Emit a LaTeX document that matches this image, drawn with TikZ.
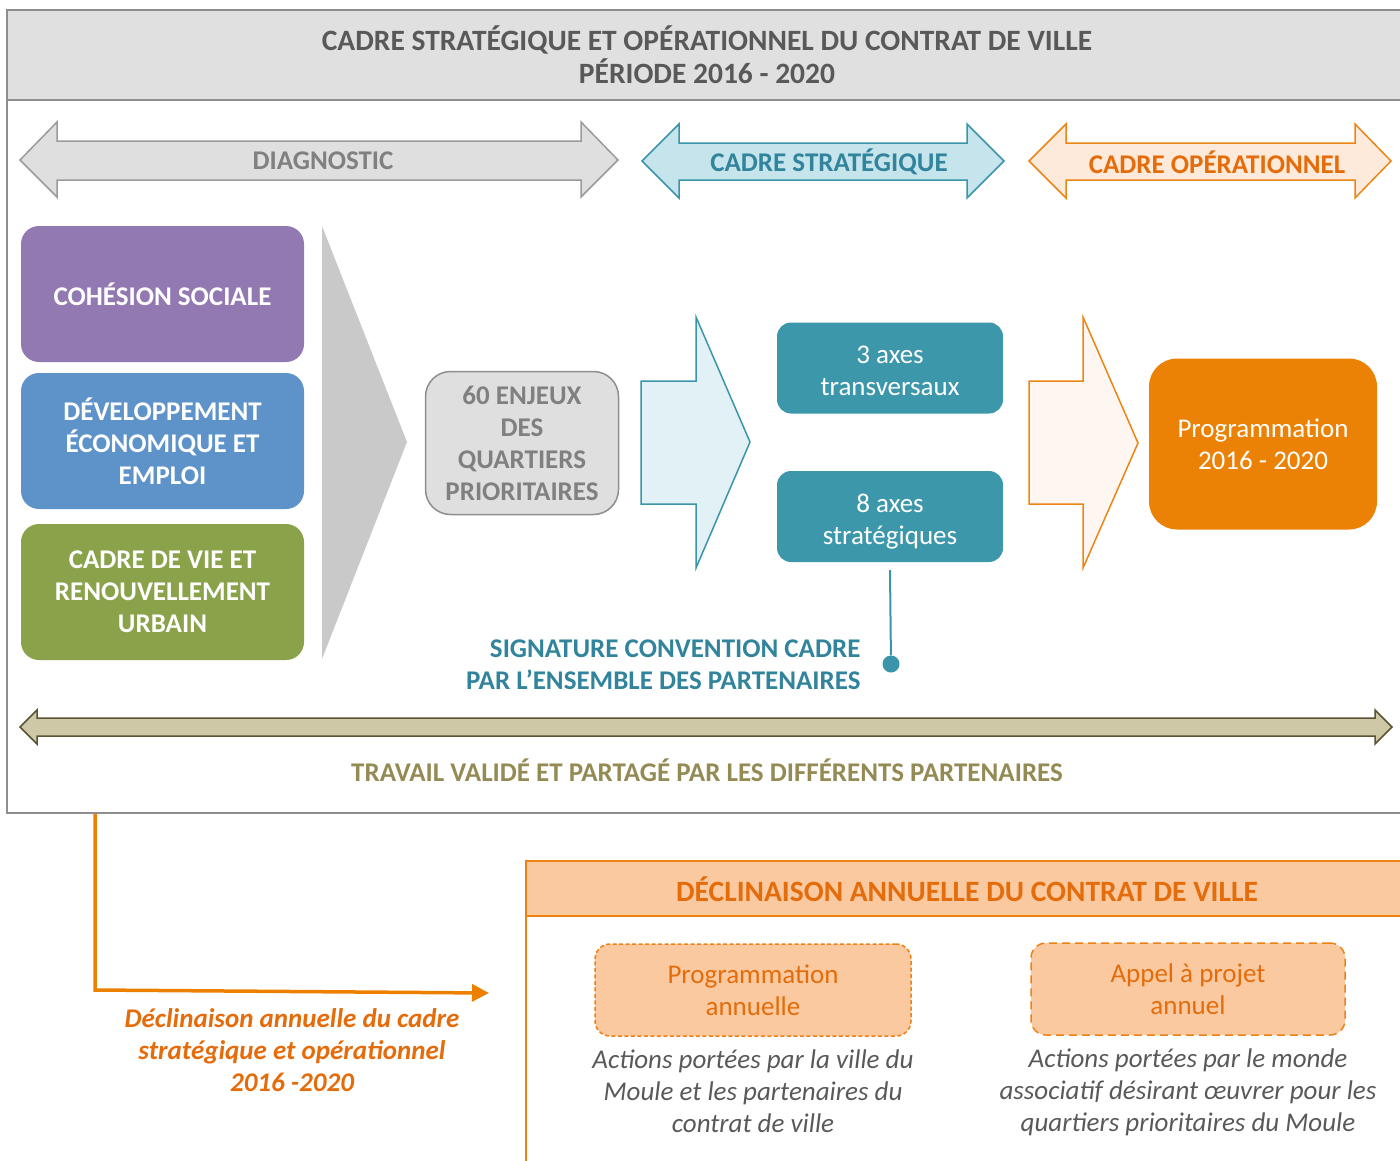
\documentclass[tikz,border=0pt]{standalone}
\usepackage{fontspec}
\setmainfont{Carlito}
\usepackage{tikz}
\usetikzlibrary{arrows.meta,positioning}
\definecolor{headgray}{HTML}{E0E0E0}
\definecolor{framegray}{HTML}{8E8E8E}
\definecolor{darkgray}{HTML}{595959}
\definecolor{diagfill}{HTML}{DFDFDF}
\definecolor{diagline}{HTML}{9A9A9A}
\definecolor{diagtext}{HTML}{808080}
\definecolor{stratfill}{HTML}{C5E4EC}
\definecolor{stratline}{HTML}{3A95AA}
\definecolor{strattext}{HTML}{31849B}
\definecolor{operfill}{HTML}{FDEADA}
\definecolor{operline}{HTML}{EB8516}
\definecolor{opertext}{HTML}{E46C0A}
\definecolor{cohesion}{HTML}{9279B1}
\definecolor{devel}{HTML}{5E93CA}
\definecolor{cadrevie}{HTML}{8AA34A}
\definecolor{funnel}{HTML}{C9C9C9}
\definecolor{axeteal}{HTML}{3C97AB}
\definecolor{bluearrow}{HTML}{E2F1F6}
\definecolor{orangearrow}{HTML}{FEF6F0}
\definecolor{progorange}{HTML}{EB8205}
\definecolor{khaki}{HTML}{CFC8A6}
\definecolor{khakiline}{HTML}{5A5335}
\definecolor{khakitext}{HTML}{948A54}
\definecolor{peach}{HTML}{FAC9A0}
\definecolor{peachline}{HTML}{EE8116}
\definecolor{elbow}{HTML}{EE8000}
\tikzstyle{theme} = [rectangle, rounded corners=18pt, minimum width=283pt,
                     minimum height=136pt, text width=270pt, align=flush center,
                     text=white, font=\bfseries\fontsize{27}{32}\selectfont]
\tikzstyle{axe} = [rectangle, rounded corners=14pt, fill=axeteal, minimum width=226pt,
                   minimum height=91pt, align=center, text=white,
                   text height=55pt, text depth=0pt,
                   font=\fontsize{27}{32}\selectfont]
\tikzstyle{annual} = [rectangle, rounded corners=15pt, fill=peach, draw=peachline,
                      line width=1.5pt, align=center, text=opertext,
                      font=\fontsize{27}{32}\selectfont, minimum height=92pt]
\tikzstyle{caption} = [align=center, font=\bfseries\fontsize{27}{32}\selectfont]
\tikzstyle{note} = [align=center, text=darkgray, font=\itshape\fontsize{27}{32}\selectfont]

\begin{document}
\frenchspacing
\begin{tikzpicture}[x=1pt, y=-1pt]
\useasboundingbox (0,0) rectangle (1400,1160);
%Frame
\draw[framegray, line width=1.5pt] (7,10) rectangle (1420,813);
\draw[framegray, fill=headgray, line width=1.5pt] (7,10) rectangle (1420,100);
\node[caption, text=darkgray, font=\bfseries\fontsize{29.5}{33}\selectfont] (title) at (707,55) {CADRE STRATÉGIQUE ET OPÉRATIONNEL DU CONTRAT DE VILLE\\PÉRIODE 2016 - 2020};

%Phases
\draw[diagline, fill=diagfill, line width=1.5pt] (20,160) -- (57,122) -- (57,141) -- (581,141) -- (581,122) -- (618,160) -- (581,197) -- (581,180) -- (57,180) -- (57,197) -- cycle;
\node[caption, text=diagtext] (diag) at (323,161) {DIAGNOSTIC};
\draw[stratline, fill=stratfill, line width=1.5pt] (642,161) -- (679,124) -- (679,143) -- (967,143) -- (967,124) -- (1004,161) -- (967,198) -- (967,180) -- (679,180) -- (679,198) -- cycle;
\node[caption, text=strattext] (strat) at (829,162) {CADRE STRATÉGIQUE};
\draw[operline, fill=operfill, line width=1.5pt] (1029,161) -- (1066,124) -- (1066,143) -- (1355,143) -- (1355,124) -- (1391,161) -- (1355,198) -- (1355,180) -- (1066,180) -- (1066,198) -- cycle;
\node[caption, text=opertext] (oper) at (1217,162) {CADRE OPÉRATIONNEL};

%Diagnostic
\node[theme, fill=cohesion] (cohesion) at (162.5,294) {COHÉSION SOCIALE};
\node[theme, fill=devel] (devel) at (162.5,441) {DÉVELOPPEMENT\\ÉCONOMIQUE ET\\EMPLOI};
\node[theme, fill=cadrevie] (vie) at (162.5,592) {CADRE DE VIE ET\\RENOUVELLEMENT\\URBAIN};
\fill[funnel] (322,226) -- (407,442) -- (322,659) -- cycle;
\node[rectangle, rounded corners=25pt, draw=framegray, fill=diagfill, line width=1.5pt,
      minimum width=193pt, minimum height=143pt, caption, text=diagtext] (enjeux) at (522,443)
      {60 ENJEUX\\DES\\QUARTIERS\\PRIORITAIRES};

%Strategic frame
\draw[stratline, fill=bluearrow, line width=1.5pt] (641,381) -- (696,381) -- (696,317) -- (750,442) -- (696,568) -- (696,504) -- (641,504) -- cycle;
\node[axe] (axes3) at (890,368) {3 axes\\transversaux};
\node[axe] (axes8) at (890,516.5) {8 axes\\stratégiques};
\node[circle, fill=stratline, minimum size=17pt, inner sep=0pt] (dot) at (891,664) {};
\draw[stratline, line width=2pt] ([yshift=-8pt]axes8.south) -- (dot);
\node[caption, text=strattext, align=right, anchor=east] (sign) at (864,665) {SIGNATURE CONVENTION CADRE\\PAR L’ENSEMBLE DES PARTENAIRES};

%Operational frame
\draw[operline, fill=orangearrow, line width=1.5pt] (1029,381) -- (1083,381) -- (1083,317) -- (1138,443) -- (1083,568) -- (1083,504) -- (1029,504) -- cycle;
\node[rectangle, rounded corners=28pt, fill=progorange, minimum width=228pt, minimum height=171pt,
      align=center, text=white, font=\fontsize{27}{32}\selectfont] (prog) at (1263,444) {Programmation\\2016 - 2020};

%Shared work
\draw[khakiline, fill=khaki, line width=1.5pt] (20,727) -- (37,710) -- (37,718) -- (1375,718) -- (1375,710) -- (1392,727) -- (1375,744) -- (1375,736) -- (37,736) -- (37,744) -- cycle;
\node[caption, text=khakitext] (travail) at (707,770) {TRAVAIL VALIDÉ ET PARTAGÉ PAR LES DIFFÉRENTS PARTENAIRES};

%Annual breakdown
\coordinate (from) at (95,814);
\coordinate (to) at (489,993);
\draw[elbow, line width=3.5pt, -{Triangle[length=17pt,width=17pt]}] (from) -- (95,990) -- (to);
\node[caption, text=opertext, font=\bfseries\itshape\fontsize{27}{32}\selectfont] (decl) at (292,1050) {Déclinaison annuelle du cadre\\stratégique et opérationnel\\2016 -2020};
\draw[peachline, line width=2pt] (526,861) rectangle (1420,1180);
\draw[peachline, fill=peach, line width=2pt] (526,861) rectangle (1420,916);
\node[caption, text=opertext, font=\bfseries\fontsize{29.5}{33}\selectfont] (annuel) at (967,889) {DÉCLINAISON ANNUELLE DU CONTRAT DE VILLE};
\node[annual, minimum width=316pt, dash pattern=on 4pt off 2.5pt] (progan) at (753,990) {Programmation\\annuelle};
\node[annual, minimum width=314pt, dash pattern=on 8pt off 5pt] (appel) at (1188,989) {Appel à projet\\annuel};
\node[note, below=9pt of progan] (ville) {Actions portées par la ville du\\Moule et les partenaires du\\contrat de ville};
\node[note, below=9pt of appel] (monde) {Actions portées par le monde\\associatif désirant œuvrer pour les\\quartiers prioritaires du Moule};
\end{tikzpicture}
\end{document}
